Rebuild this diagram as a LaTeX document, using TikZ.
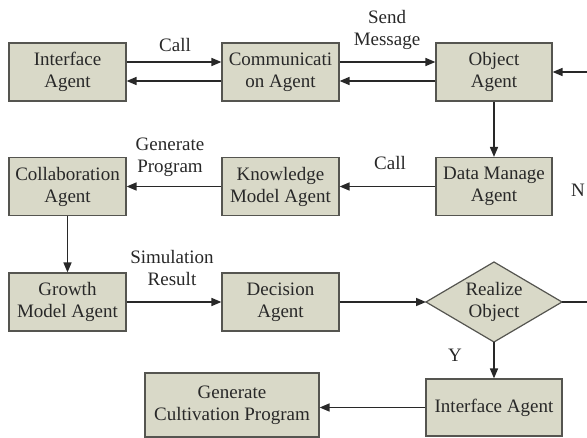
\documentclass[tikz,border=0pt]{standalone}
\usepackage{fontspec}
\setmainfont{Liberation Serif}
\usetikzlibrary{arrows.meta}
\definecolor{boxfill}{RGB}{217,217,200}
\definecolor{boxline}{RGB}{85,85,80}
\definecolor{ink}{RGB}{40,40,40}
\begin{document}
\begin{tikzpicture}[x=1pt,y=-1pt,
  agent/.style={draw=boxline, fill=boxfill, line width=1.2pt, minimum width=117pt, minimum height=58pt,
    align=center, font=\fontsize{19}{22}\selectfont, text=ink, inner sep=0pt},
  conn/.style={draw=ink, line width=1.6pt, -{Triangle[length=10pt,width=8pt]}},
  plain/.style={draw=ink, line width=1.6pt},
  lbl/.style={font=\fontsize{19}{22}\selectfont, text=ink, align=center}]
\useasboundingbox (0,0) rectangle (587,438);
% nodes
\node[agent] (ia1) at (67.5,72) {Interface\\Agent};
\node[agent] (ca) at (280.5,72) {Communicati\\on Agent};
\node[agent, minimum width=116pt] (oa) at (494,72) {Object\\Agent};
\node[agent, minimum width=116pt] (dm) at (494,186.5) {Data Manage\\Agent};
\node[agent] (km) at (280.5,186.5) {Knowledge\\Model Agent};
\node[agent] (co) at (67.5,186.5) {Collaboration\\Agent};
\node[agent] (gm) at (67.5,302) {Growth\\Model Agent};
\node[agent] (de) at (280.5,302) {Decision\\Agent};
% diamond
\coordinate (dl) at (426,302);
\coordinate (dr) at (562,302);
\coordinate (dt) at (494,262);
\coordinate (db) at (494,342);
\draw[draw=boxline, fill=boxfill, line width=1.2pt] (dl) -- (dt) -- (dr) -- (db) -- cycle;
\node[lbl] (ro) at (494,302) {Realize\\Object};
\node[agent, minimum width=136pt, minimum height=57pt] (ia2) at (494,407.5) {Interface Agent};
\node[agent, minimum width=174pt, minimum height=64pt] (gc) at (232,405) {Generate\\Cultivation Program};
% free ends
\coordinate (rin) at (587,72);
\coordinate (rout) at (587,302);
% connectors
\draw[conn] ([yshift=10pt]ia1.east) -- ([yshift=10pt]ca.west);
\draw[conn] ([yshift=-9pt]ca.west) -- ([yshift=-9pt]ia1.east);
\draw[conn] ([yshift=10pt]ca.east) -- ([yshift=10pt]oa.west);
\draw[conn] ([yshift=-9pt]oa.west) -- ([yshift=-9pt]ca.east);
\draw[conn] (rin) -- (oa.east);
\draw[conn] (oa.south) -- (dm.north);
\draw[conn] (dm.west) -- (km.east);
\draw[conn] (km.west) -- (co.east);
\draw[conn] (co.south) -- (gm.north);
\draw[conn] (gm.east) -- (de.west);
\draw[conn] (de.east) -- (dl);
\draw[plain] (dr) -- (rout);
\draw[conn] (db) -- (ia2.north);
\draw[conn] (ia2.west) -- (gc.east |- ia2.west);
% labels
\node[lbl] (l1) at (175,45) {Call};
\node[lbl] (l2) at (387,30) {Send\\Message};
\node[lbl] (l3) at (390,163) {Call};
\node[lbl] (l4) at (170,157.5) {Generate\\Program};
\node[lbl] (l5) at (172,268) {Simulation\\Result};
\node[lbl] (l6) at (578,190) {N};
\node[lbl] (l7) at (455,355) {Y};
\end{tikzpicture}
\end{document}
